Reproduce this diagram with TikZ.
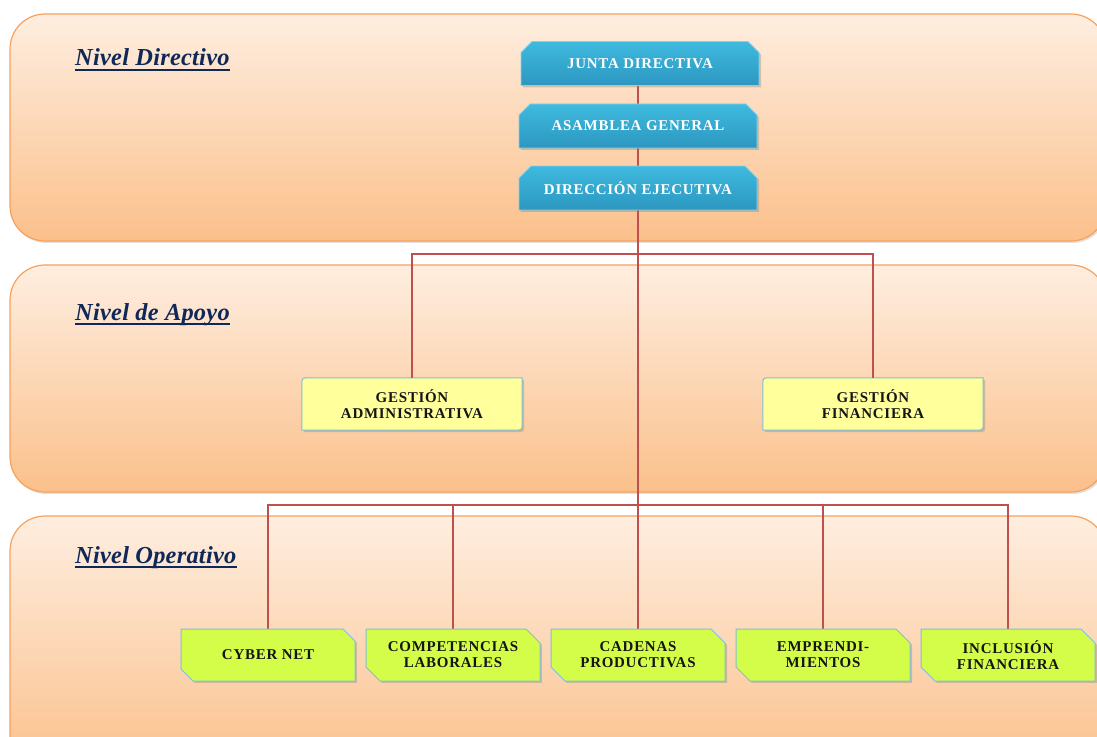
\documentclass[tikz,border=0pt]{standalone}
\usepackage{fontspec}
\usetikzlibrary{shapes.misc,shadows,calc}
\newfontfamily\boxfont[LetterSpace=5]{Liberation Serif}
\newfontfamily\labfont[LetterSpace=1]{Liberation Serif}
\definecolor{bandtop}{HTML}{FEEEE0}
\definecolor{bandbot}{HTML}{FBC08B}
\definecolor{bandline}{HTML}{F8A15C}
\definecolor{bluetop}{HTML}{3FBADF}
\definecolor{bluebot}{HTML}{2C97C0}
\definecolor{blueline}{HTML}{86D0EA}
\definecolor{yfill}{HTML}{FFFF9C}
\definecolor{gfill}{HTML}{D4FD4A}
\definecolor{boxline}{HTML}{7FBFD8}
\definecolor{connred}{HTML}{C0504D}
\definecolor{navy}{HTML}{102858}
\definecolor{txt}{HTML}{151515}
\pgfdeclarelayer{back}
\pgfsetlayers{back,main}
\tikzset{
  band/.style={draw=bandline, line width=1.2bp, rounded corners=35bp,
    top color=bandtop, bottom color=bandbot,
    drop shadow={shadow xshift=1.5pt, shadow yshift=-2pt, opacity=0.25}},
  bluebox/.style={chamfered rectangle, chamfered rectangle corners={north west,north east},
    chamfered rectangle xsep=6bp, chamfered rectangle ysep=6bp,
    draw=blueline, line width=0.8bp, top color=bluetop, bottom color=bluebot,
    minimum width=238bp, minimum height=44bp, inner sep=0pt, text=white,
    font=\boxfont\bfseries\fontsize{15}{16}\selectfont,
    drop shadow={shadow xshift=2pt, shadow yshift=-2pt, opacity=0.35}},
  greenbox/.style={chamfered rectangle, chamfered rectangle corners={north east,south west},
    chamfered rectangle xsep=7bp, chamfered rectangle ysep=7bp,
    draw=boxline, line width=1bp, fill=gfill,
    minimum width=174bp, minimum height=52bp, inner sep=0pt, text=txt, align=center,
    font=\boxfont\bfseries\fontsize{15}{16}\selectfont,
    drop shadow={shadow xshift=2pt, shadow yshift=-2pt, opacity=0.35}},
  ytext/.style={minimum width=220bp, minimum height=52bp, inner sep=0pt, text=txt, align=center,
    font=\boxfont\bfseries\fontsize{15}{16}\selectfont},
  yshape/.style={draw=boxline, line width=1bp, fill=yfill,
    drop shadow={shadow xshift=2pt, shadow yshift=-2pt, opacity=0.35}},
  lvl/.style={anchor=base west, inner sep=0pt, text=navy,
    font=\labfont\bfseries\itshape\fontsize{24.5}{26}\selectfont},
  uline/.style={draw=navy, line width=1.8bp},
  conn/.style={draw=connred, line width=2bp}
}
\newcommand\yshapeof[1]{%
  \path[yshape] ($(#1.north west)+(0,8)$) .. controls (#1.north west) .. ($(#1.north west)+(8,0)$)
    -- (#1.north east) -- ($(#1.south east)+(0,-8)$) .. controls (#1.south east) .. ($(#1.south east)+(-8,0)$)
    -- (#1.south west) -- cycle;}
\begin{document}
\begin{tikzpicture}[x=1bp,y=-1bp]
\useasboundingbox (0,0) rectangle (1097,737);
\begin{pgfonlayer}{back}
\fill[white] (0,0) rectangle (1097,737);
\path[band] (10,14) rectangle (1106,241);
\path[band] (10,265) rectangle (1106,492);
\path[band] (10,516) rectangle (1106,775);
\end{pgfonlayer}

% level labels
\node[lvl] (l1) at (75,66) {Nivel Directivo};
\node[lvl] (l2) at (75,320) {Nivel de Apoyo};
\node[lvl] (l3) at (75,563) {Nivel Operativo};
\draw[uline] ($(l1.base west)+(0,4)$) -- ($(l1.base east)+(0,4)$);
\draw[uline] ($(l2.base west)+(0,4)$) -- ($(l2.base east)+(0,4)$);
\draw[uline] ($(l3.base west)+(0,4)$) -- ($(l3.base east)+(0,4)$);

% directive boxes
\node[bluebox] (jd) at (640,63.5) {JUNTA DIRECTIVA};
\node[bluebox] (ag) at (638,126) {ASAMBLEA GENERAL};
\node[bluebox] (de) at (638,188) {DIRECCIÓN EJECUTIVA};

% support boxes
\node[ytext] (ga) at (412,404) {GESTIÓN\\ADMINISTRATIVA};
\node[ytext] (gf) at (873,404) {GESTIÓN\\FINANCIERA};
\begin{pgfonlayer}{back}
\yshapeof{ga}
\yshapeof{gf}
\end{pgfonlayer}

% operative boxes
\node[greenbox] (cy) at (268,655) {CYBER NET};
\node[greenbox] (co) at (453,655) {COMPETENCIAS\\LABORALES};
\node[greenbox] (ca) at (638,655) {CADENAS\\PRODUCTIVAS};
\node[greenbox] (em) at (823,655) {EMPRENDI-\\MIENTOS};
\node[greenbox] (in) at (1008,655) {INCLUSIÓN\\FINANCIERA};

% connectors
\coordinate (b1) at (638,254);
\coordinate (b2) at (638,505);
\begin{pgfonlayer}{back}
\draw[conn] (jd.south -| ag.south) -- (ag.north);
\draw[conn] (ag.south) -- (de.north);
\draw[conn] (de.south) -- (b2);
\draw[conn] (ga.north) |- (b1) -| (gf.north);
\draw[conn] (cy.north) |- (b2) -| (in.north);
\draw[conn] (co.north) -- (co.north |- b2);
\draw[conn] (b2) -- (ca.north);
\draw[conn] (em.north) -- (em.north |- b2);
\end{pgfonlayer}
\end{tikzpicture}
\end{document}
